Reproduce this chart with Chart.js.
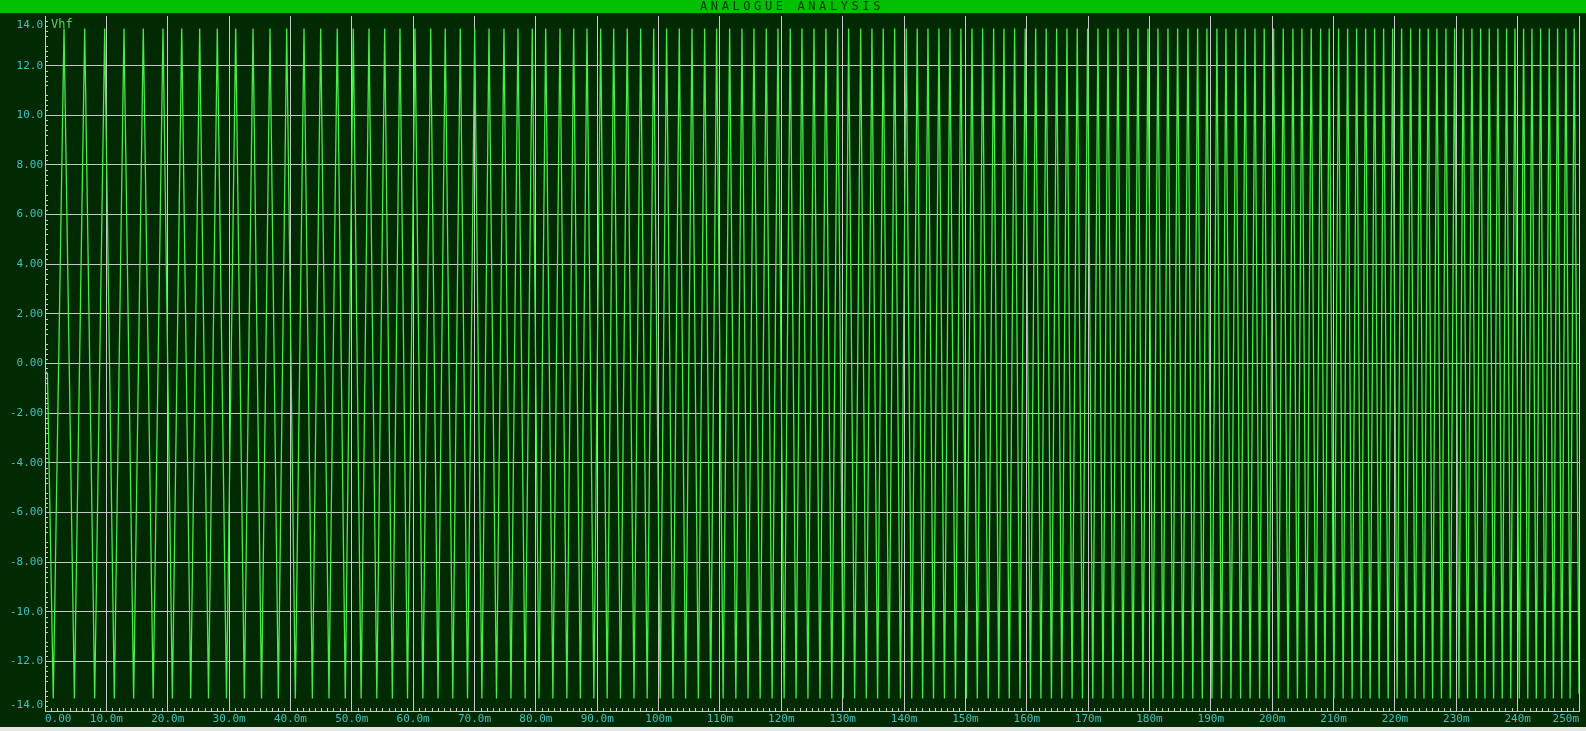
<!DOCTYPE html>
<html><head><meta charset="utf-8">
<script src="https://cdn.jsdelivr.net/npm/chart.js@4.4.1/dist/chart.umd.min.js"></script>
<style>html,body{margin:0;padding:0;background:#022a02;overflow:hidden}#wrap{width:1586px;height:731px;position:relative}</style>
</head><body><div id="wrap"><canvas id="c" width="1586" height="731"></canvas></div>
<script>
const TITLE = 'ANALOGUE ANALYSIS';
const TRACE_NAME = 'Vhf';
// start of the trace (ms, V)
const startTimes = [0, 0.4];
const startValues = [-0.3, -0.4];
// times (ms) of the positive peaks
const peakTimes = [3.10, 6.47, 9.73, 12.87, 16.02, 19.23, 22.28, 25.21, 28.08, 31.08, 33.90, 36.67, 39.39, 42.21, 44.93, 47.63, 50.24, 52.80, 55.36, 57.85, 60.30,
62.86, 65.23, 67.68, 70.03, 72.36, 74.80, 77.08, 79.41, 81.60, 83.93, 86.16, 88.33, 90.56, 92.68, 94.89, 97.08, 99.20, 101.31, 103.37, 105.44, 107.51, 109.46, 111.58, 113.59, 115.54, 117.55, 119.45, 121.46, 123.36, 125.32,
127.27, 129.18, 130.97, 132.93, 134.77, 136.61, 138.47, 140.36, 142.15, 143.90, 145.69, 147.48, 149.27, 151.07, 152.81, 154.60, 156.28, 158.02, 159.75, 161.45, 163.17, 164.87, 166.55, 168.23, 169.92, 171.60, 173.23, 174.86, 176.49, 178.12, 179.75, 181.38, 183.01, 184.59, 186.27, 187.85,
189.36, 190.99, 192.46, 194.09, 195.60, 197.19, 198.70, 200.23, 201.80, 203.38, 204.84, 206.36, 207.89, 209.29, 210.82, 212.29, 213.76, 215.23, 216.69, 218.16, 219.63, 221.09, 222.56, 224.03, 225.43, 226.84, 228.31, 229.73, 231.13, 232.55, 233.97, 235.37, 236.78, 238.20, 239.56, 240.97, 242.33, 243.74, 245.15, 246.51, 247.87, 249.22];
// times (ms) of the negative peaks
const troughTimes = [1.35, 4.79, 8.10, 11.30, 14.45, 17.63, 20.76, 23.75, 26.65, 29.58, 32.49, 35.29, 38.03, 40.80, 43.57, 46.28, 48.94, 51.52, 54.08, 56.61, 59.08, 61.58, 64.05, 66.46, 68.86, 71.20, 73.58, 75.94, 78.25, 80.51, 82.77, 85.05, 87.25, 89.45, 91.62, 93.79, 95.99, 98.14, 100.26, 102.34, 104.41, 106.48, 108.49, 110.52, 112.59, 114.57, 116.55, 118.50, 120.46, 122.41, 124.34, 126.30, 128.23, 130.08, 131.95, 133.85, 135.69, 137.54, 139.42, 141.26, 143.03, 144.80, 146.59, 148.38, 150.17, 151.94, 153.71, 155.44, 157.15, 158.89, 160.60, 162.31, 164.02, 165.71, 167.39, 169.08, 170.76, 172.42, 174.05, 175.68, 177.31, 178.94, 180.57, 182.20, 183.80, 185.43, 187.06, 188.61, 190.18, 191.73, 193.28, 194.85, 196.40, 197.95, 199.47, 201.02, 202.59, 204.11, 205.60, 207.13, 208.59, 210.06, 211.56, 213.03, 214.50, 215.96, 217.43, 218.90, 220.36, 221.83, 223.30, 224.73, 226.14, 227.58, 229.02, 230.43, 231.84, 233.26, 234.67, 236.08, 237.49, 238.88, 240.27, 241.65, 243.04, 244.45, 245.83, 247.19, 248.55];
const PEAK_V = 13.5;
const TROUGH_V = -13.5;
const endTimes = [250];
const endValues = [-13.3];

const xTicks = [0,10,20,30,40,50,60,70,80,90,100,110,120,130,140,150,160,170,180,190,200,210,220,230,240,250];
const xTickLabels = ['0.00','10.0m','20.0m','30.0m','40.0m','50.0m','60.0m','70.0m','80.0m','90.0m','100m','110m','120m','130m','140m','150m','160m','170m','180m','190m','200m','210m','220m','230m','240m','250m'];
const yTicks = [-14,-12,-10,-8,-6,-4,-2,0,2,4,6,8,10,12,14];
const yTickLabels = ['-14.0','-12.0','-10.0','-8.00','-6.00','-4.00','-2.00','0.00','2.00','4.00','6.00','8.00','10.0','12.0','14.0'];

const pts = [];
startTimes.forEach((t,i)=>pts.push({x:t,y:startValues[i]}));
troughTimes.forEach(t=>pts.push({x:t,y:TROUGH_V}));
peakTimes.forEach(t=>pts.push({x:t,y:PEAK_V}));
endTimes.forEach((t,i)=>pts.push({x:t,y:endValues[i]}));
pts.sort((a,b)=>a.x-b.x);

const BG = '#022a02', BAR = '#00c000', GRID = '#c8c8c8', LABEL = '#45c0c0', TRACE = 'rgb(72,235,72)';
const MONO = '"DejaVu Sans Mono", "Liberation Mono", monospace';

const deco = {
  id: 'deco',
  beforeDraw(chart) {
    const ctx = chart.ctx, W = chart.width, H = chart.height;
    ctx.save();
    ctx.fillStyle = BG; ctx.fillRect(0,0,W,H);
    ctx.fillStyle = BAR; ctx.fillRect(0,0,W,13);
    ctx.fillStyle = '#e6e6e6'; ctx.fillRect(0,727,W,H-727);
    ctx.fillStyle = '#003400';
    ctx.font = '12px ' + MONO;
    try { ctx.letterSpacing = '3.6px'; } catch(e) {}
    ctx.textBaseline = 'middle'; ctx.textAlign = 'left';
    ctx.fillText(TITLE, 700, 7);
    try { ctx.letterSpacing = '0px'; } catch(e) {}
    ctx.restore();
  },
  afterDraw(chart) {
    const ctx = chart.ctx, xs = chart.scales.x, ys = chart.scales.y, a = chart.chartArea;
    ctx.save();
    ctx.strokeStyle = GRID; ctx.lineWidth = 1;
    ctx.beginPath();
    for (let t = 1; t < 250; t++) {
      if (t % 10 === 0) continue;
      const px = Math.round(xs.getPixelForValue(t)) + 0.5;
      ctx.moveTo(px, a.bottom); ctx.lineTo(px, a.bottom - 3);
    }
    for (let k = -70; k <= 70; k++) {
      if (k % 5 === 0) continue;
      const py = Math.round(ys.getPixelForValue(k * 0.2)) + 0.5;
      ctx.moveTo(a.left, py); ctx.lineTo(a.left + 3, py);
    }
    ctx.stroke();
    ctx.fillStyle = LABEL;
    ctx.font = '11px ' + MONO;
    ctx.textAlign = 'right';
    yTicks.forEach((v,i) => {
      const py = ys.getPixelForValue(v);
      let base = 'middle', yy = py;
      if (v === ys.max) { base = 'top'; yy = py + 3.5; }
      else if (v === ys.min) { base = 'bottom'; yy = py; }
      ctx.textBaseline = base;
      ctx.fillText(yTickLabels[i], a.left - 2, yy);
    });
    ctx.fillStyle = '#52d852';
    ctx.font = '12px ' + MONO;
    ctx.textAlign = 'left'; ctx.textBaseline = 'top';
    ctx.fillText(TRACE_NAME, a.left + 6, a.top + 3);
    ctx.restore();
  }
};

new Chart(document.getElementById('c'), {
  type: 'line',
  data: { datasets: [{ label: TRACE_NAME, data: pts, borderColor: TRACE, borderWidth: 1.3, pointRadius: 0, tension: 0, fill: false }] },
  options: {
    responsive: false, animation: false, devicePixelRatio: 1, events: [],
    parsing: false, normalized: true,
    layout: { padding: { top: 16, right: 7, left: 0, bottom: 0 } },
    plugins: { legend: { display: false }, tooltip: { enabled: false }, title: { display: false } },
    scales: {
      x: {
        type: 'linear', min: 0, max: 250,
        afterBuildTicks: s => { s.ticks = xTicks.map(v => ({ value: v })); },
        afterFit: s => { s.height = 20; },
        ticks: { autoSkip: false, maxRotation: 0, align: 'inner', padding: 2, color: LABEL,
                 font: { family: MONO, size: 11 },
                 callback: v => xTickLabels[xTicks.indexOf(Math.round(v))] },
        grid: { color: GRID, lineWidth: 1, drawTicks: false, tickLength: 0 },
        border: { display: true, color: GRID, width: 1 }
      },
      y: {
        type: 'linear', min: -14, max: 14,
        afterBuildTicks: s => { s.ticks = yTicks.map(v => ({ value: v })); },
        afterFit: s => { s.width = 45; },
        ticks: { display: false },
        grid: { color: c => (c.tick && c.tick.value === 14) ? 'rgba(0,0,0,0)' : GRID, lineWidth: 1, drawTicks: false, tickLength: 0 },
        border: { display: true, color: GRID, width: 1 }
      }
    }
  },
  plugins: [deco]
});
</script>
</body></html>
